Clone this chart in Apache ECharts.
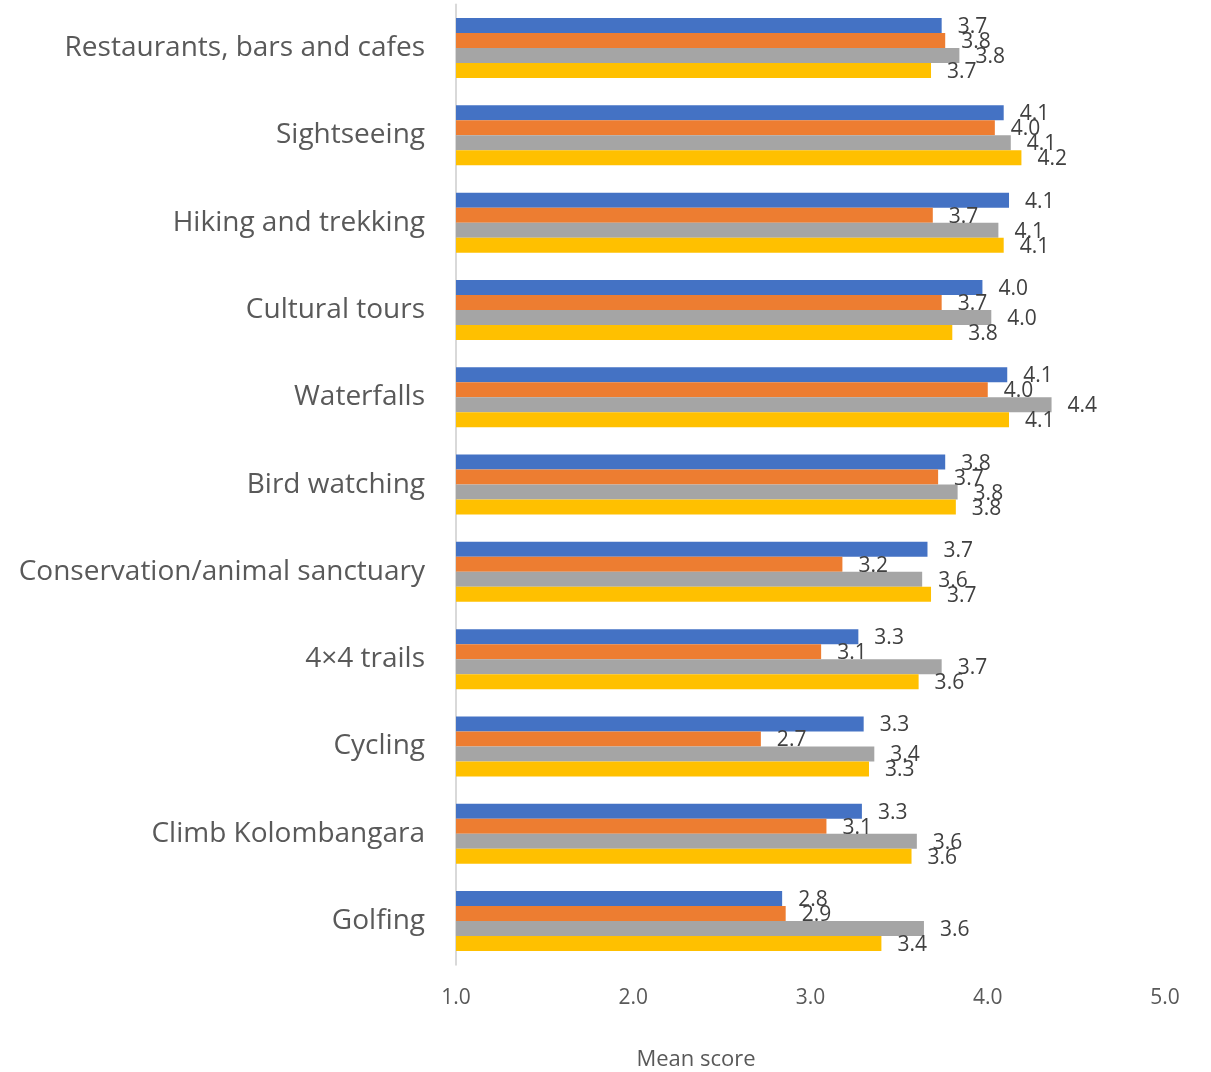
<!DOCTYPE html>
<html>
<head>
<meta charset="utf-8">
<script src="https://cdn.jsdelivr.net/npm/echarts@6/dist/echarts.min.js"></script>
<style>
  html, body { margin: 0; padding: 0; background: #ffffff; }
  #chart { width: 1211px; height: 1072px; }
</style>
</head>
<body>
<div id="chart"></div>
<script>
// Activities, listed top to bottom
const categories = [
  'Restaurants, bars and cafes',
  'Sightseeing',
  'Hiking and trekking',
  'Cultural tours',
  'Waterfalls',
  'Bird watching',
  'Conservation/animal sanctuary',
  '4\u00d74 trails',
  'Cycling',
  'Climb Kolombangara',
  'Golfing'
];

// Mean scores per respondent group (same order as categories)
const group1 = [3.74, 4.09, 4.12, 3.97, 4.11, 3.76, 3.66, 3.27, 3.30, 3.29, 2.84];
const group2 = [3.76, 4.04, 3.69, 3.74, 4.00, 3.72, 3.18, 3.06, 2.72, 3.09, 2.86];
const group3 = [3.84, 4.13, 4.06, 4.02, 4.36, 3.83, 3.63, 3.74, 3.36, 3.60, 3.64];
const group4 = [3.68, 4.19, 4.09, 3.80, 4.12, 3.82, 3.68, 3.61, 3.33, 3.57, 3.40];

// Value axis ticks
const axisMin = 1;
const axisMax = 5;
const axisStep = 1;

const FONT = '"Open Sans", "Noto Sans", sans-serif';

const seriesDefs = [
  { name: 'Group 1', data: group1, color: '#4472C4' },
  { name: 'Group 2', data: group2, color: '#ED7D31' },
  { name: 'Group 3', data: group3, color: '#A5A5A5' },
  { name: 'Group 4', data: group4, color: '#FFC000' }
];

const chart = echarts.init(document.getElementById('chart'), null, { renderer: 'canvas' });

chart.setOption({
  animation: false,
  backgroundColor: '#ffffff',
  textStyle: { fontFamily: FONT },
  grid: { left: 456, right: 46, top: 4.4, bottom: 107.3, containLabel: false },
  xAxis: {
    type: 'value',
    min: axisMin,
    max: axisMax,
    interval: axisStep,
    axisLine: { show: false },
    axisTick: { show: false },
    splitLine: { show: false },
    axisLabel: {
      margin: 23,
      fontSize: 21,
      color: '#595959',
      fontFamily: FONT,
      formatter: v => v.toFixed(1)
    }
  },
  yAxis: {
    type: 'category',
    inverse: true,
    data: categories,
    axisLine: { show: true, lineStyle: { color: '#d9d9d9', width: 2 } },
    axisTick: { show: false },
    axisLabel: {
      margin: 31,
      fontSize: 28,
      color: '#595959',
      fontFamily: FONT,
      padding: [4, 0, 0, 0]
    }
  },
  graphic: [{
    type: 'text',
    x: 696,
    y: 1060,
    style: {
      text: 'Mean score',
      fontSize: 22,
      fontFamily: FONT,
      fill: '#595959',
      align: 'center',
      verticalAlign: 'middle'
    },
    z: 10
  }],
  series: seriesDefs.map(s => ({
    type: 'bar',
    name: s.name,
    data: s.data,
    barGap: '0%',
    barCategoryGap: '31.3%',
    itemStyle: { color: s.color },
    label: {
      show: true,
      position: 'right',
      distance: 16,
      offset: [0, 1.5],
      fontSize: 21,
      color: '#404040',
      fontFamily: FONT,
      formatter: p => p.value.toFixed(1)
    }
  }))
});
</script>
</body>
</html>
